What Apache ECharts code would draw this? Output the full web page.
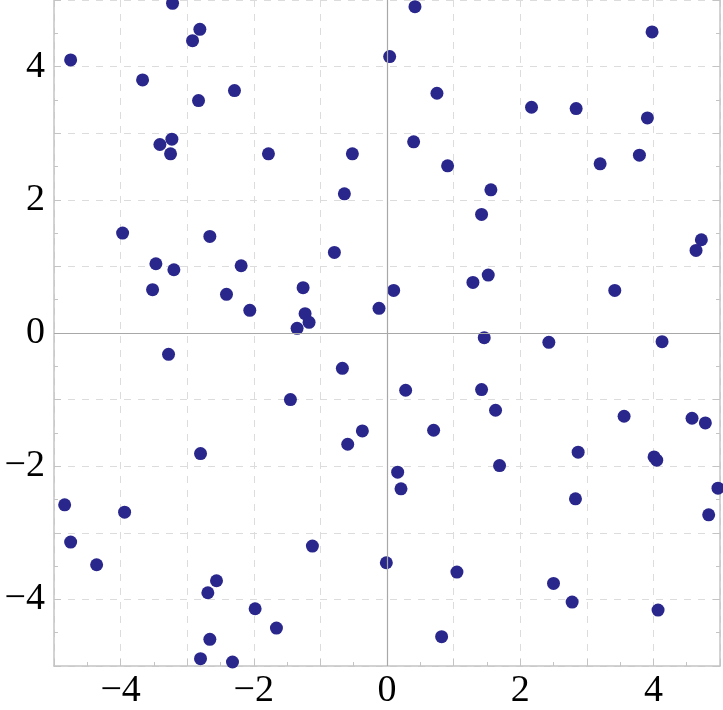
<!DOCTYPE html>
<html>
<head>
<meta charset="utf-8">
<script src="https://cdn.jsdelivr.net/npm/echarts@6.0.0/dist/echarts.min.js"></script>
<style>
  html, body { margin: 0; padding: 0; background: #fff; }
  #main { width: 723px; height: 710px; }
</style>
</head>
<body>
<div id="main"></div>
<script>
// point coordinates
var xs = [-3.22, -2.81, -2.92, -4.75, 0.42, 0.04, 3.98, -3.67, -2.29, -2.83,
          0.75, 2.17, 2.84, 3.91, -3.41, -3.23, -3.25, -1.78, -0.52, 0.40,
          0.91, 3.20, 3.79, -0.64, 1.56, 1.42, -3.97, -2.66, -0.79, 4.72,
          4.64, -3.47, -2.19, -3.20, 1.52, 1.29, -3.52, -1.26, -2.41, 0.10,
          3.42, -2.06, -1.23, -1.17, -1.35, -0.12, -3.28, 1.46, 2.43, 4.13,
          -0.67, -1.45, 0.28, 1.42, 1.63, 3.56, 4.58, 4.78, -0.37, -0.59,
          0.70, -2.80, 1.69, 2.87, 4.01, 4.05, 0.16, 0.21, -4.84, -3.94,
          2.83, 4.97, 4.83, -4.75, -1.12, -4.36, -0.01, 1.05, -2.56, 2.50,
          -2.69, 2.78, -1.98, 4.07, -1.66, -2.66, 0.82, -2.80, -2.32];
var ys = [4.95, 4.56, 4.39, 4.10, 4.90, 4.15, 4.52, 3.80, 3.64, 3.49,
          3.60, 3.39, 3.37, 3.23, 2.83, 2.91, 2.69, 2.69, 2.69, 2.87,
          2.51, 2.54, 2.67, 2.09, 2.15, 1.78, 1.50, 1.45, 1.21, 1.40,
          1.24, 1.04, 1.01, 0.95, 0.87, 0.76, 0.65, 0.68, 0.58, 0.64,
          0.64, 0.34, 0.29, 0.16, 0.07, 0.37, -0.32, -0.07, -0.14, -0.13,
          -0.53, -1.00, -0.86, -0.85, -1.16, -1.25, -1.28, -1.35, -1.47, -1.67,
          -1.46, -1.81, -1.99, -1.79, -1.86, -1.91, -2.09, -2.34, -2.58, -2.69,
          -2.49, -2.33, -2.73, -3.14, -3.20, -3.48, -3.45, -3.59, -3.72, -3.76,
          -3.90, -4.04, -4.14, -4.16, -4.43, -4.60, -4.56, -4.89, -4.94];
var axisMin = -5, axisMax = 5;

var pts = [];
for (var i = 0; i < xs.length; i++) {
    pts.push([xs[i], ys[i]]);
}

function tickLabel(v) {
    if (Math.abs(v % 2) > 1e-9) return '';
    return v < 0 ? '\u2212' + Math.abs(v) : String(v);
}

var frameColor = '#c4c4c4';
var labelFont = { fontFamily: 'Liberation Serif', fontSize: 38, color: '#000' };

function makeAxis(extra) {
    var a = {
        type: 'value',
        min: axisMin,
        max: axisMax,
        interval: 1,
        axisLine: { show: true, onZero: false, lineStyle: { color: frameColor, width: 1.5 } },
        axisTick: { show: true, inside: true, length: 7, lineStyle: { color: frameColor } },
        minorTick: { show: true, splitNumber: 2, length: 4, lineStyle: { color: frameColor } },
        splitLine: { show: true, lineStyle: { color: '#dcdcdc', type: [7, 7], width: 1 } },
        axisLabel: Object.assign({ formatter: tickLabel, margin: 6 }, labelFont)
    };
    return Object.assign(a, extra);
}

var myChart = echarts.init(document.getElementById('main'), null, { renderer: 'canvas' });

var option = {
    animation: false,
    backgroundColor: '#fff',
    grid: { left: 54, right: 1, top: -1, bottom: 44 },
    xAxis: [
        makeAxis({ position: 'bottom' })
    ],
    yAxis: [
        makeAxis({ position: 'left', axisLabel: Object.assign({ formatter: tickLabel, margin: 9 }, labelFont) }),
        makeAxis({ position: 'right', splitLine: { show: false }, axisLabel: { show: false } })
    ],
    series: [
        {
            // zero axes drawn under the points
            type: 'line',
            data: [],
            z: 1,
            silent: true,
            markLine: {
                silent: true,
                symbol: 'none',
                label: { show: false },
                lineStyle: { color: '#a8a8a8', type: 'solid', width: 1.2 },
                data: [{ xAxis: 0 }, { yAxis: 0 }]
            }
        },
        {
            type: 'scatter',
            z: 3,
            symbolSize: 13,
            clip: true,
            itemStyle: { color: '#29278c', opacity: 1 },
            data: pts
        }
    ]
};
myChart.setOption(option);
</script>
</body>
</html>
